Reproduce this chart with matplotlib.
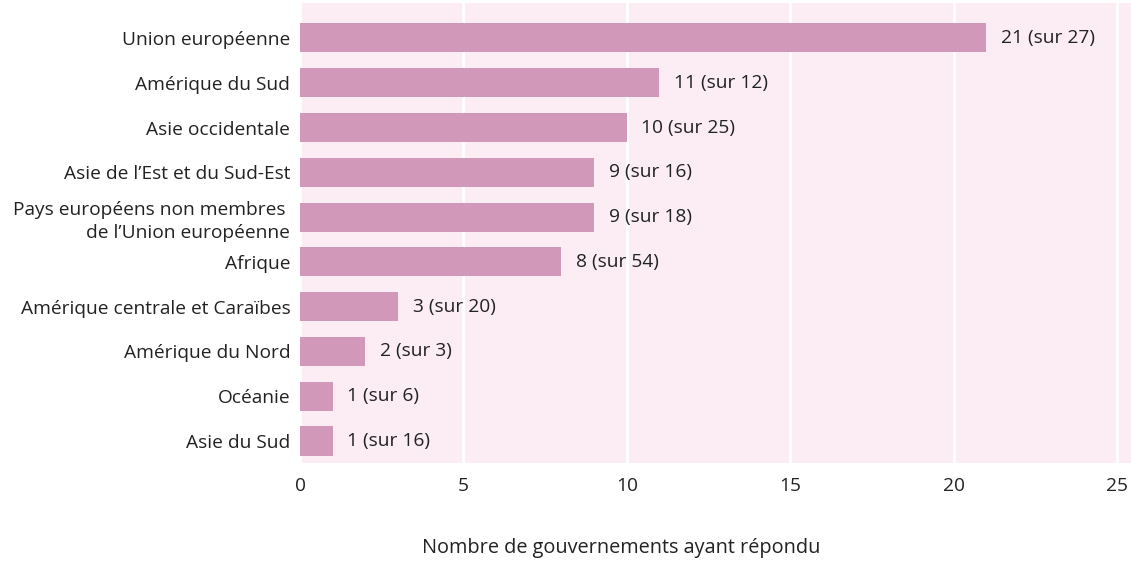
import matplotlib
matplotlib.use('Agg')
import matplotlib.pyplot as plt

regions = ['Union européenne', 'Amérique du Sud', 'Asie occidentale',
           'Asie de l’Est et du Sud-Est',
           'Pays européens non membres \nde l’Union européenne',
           'Afrique', 'Amérique centrale et Caraïbes', 'Amérique du Nord',
           'Océanie', 'Asie du Sud']
answered = [21, 11, 10, 9, 9, 8, 3, 2, 1, 1]
totals = [27, 12, 25, 16, 18, 54, 20, 3, 6, 16]

plt.rcParams['font.family'] = ['Open Sans', 'DejaVu Sans']
plt.rcParams['font.size'] = 13.8

bar_col = '#d198b9'
bg_col = '#fcedf5'
txt_col = '#222222'

fig = plt.figure(figsize=(11.31, 5.63), dpi=100)
ax = fig.add_axes([300 / 1131, 1 - 463 / 563, 1 - 300 / 1131, 460 / 563])
ax.set_facecolor(bg_col)

ypos = list(range(len(regions)))
ax.barh(ypos, answered, height=0.65, color=bar_col, zorder=2)
for y, a, t in zip(ypos, answered, totals):
    ax.text(a + 0.45, y, f'{a} (sur {t})', va='center', ha='left', color=txt_col, zorder=3)

ax.set_yticks(ypos)
ax.set_yticklabels(regions, color=txt_col, linespacing=1.35)
ax.set_xticks([0, 5, 10, 15, 20, 25])
ax.tick_params(axis='x', length=0, pad=10, colors=txt_col)
ax.tick_params(axis='y', length=0, pad=7, colors=txt_col)
ax.set_xlim(0, 25.43)
ax.set_ylim(9.49, -0.78)
ax.grid(axis='x', color='white', linewidth=2, zorder=1)
ax.set_axisbelow(True)
for s in ax.spines.values():
    s.set_visible(False)
fig.text(621 / 1131, 1 - 548 / 563, 'Nombre de gouvernements ayant répondu',
         ha='center', va='center', color=txt_col, fontsize=14.3)

fig.savefig('out.png', dpi=100)
